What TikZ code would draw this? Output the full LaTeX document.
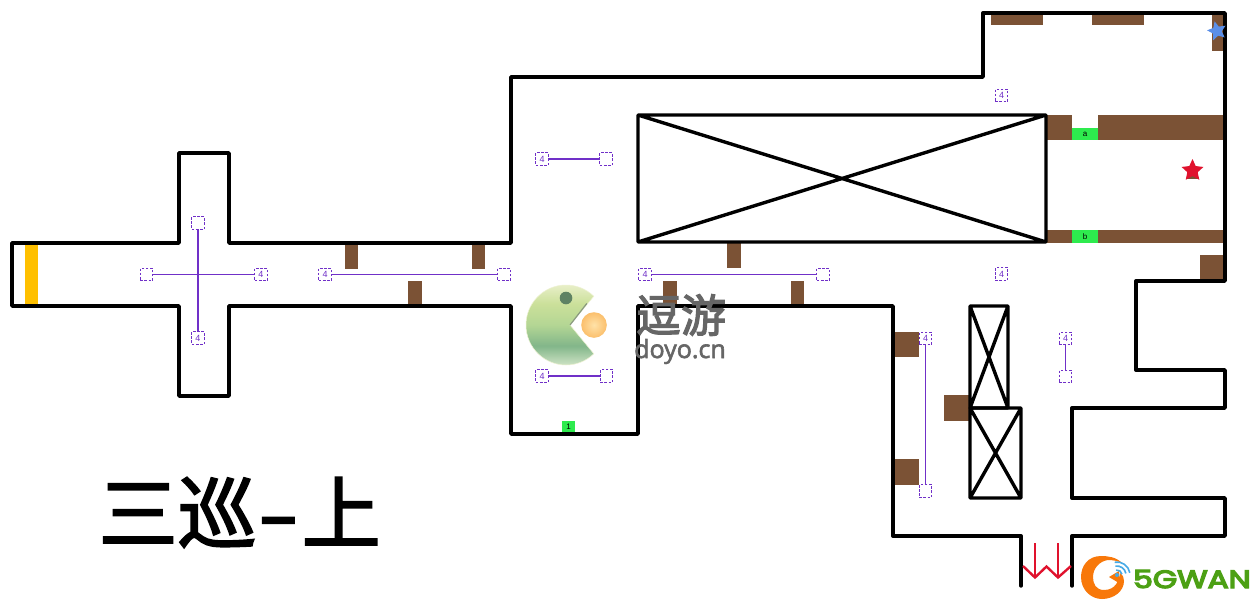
\documentclass[tikz,border=0pt]{standalone}
\usepackage{fontspec}
\setmainfont{Liberation Sans}
\newfontfamily\cjkfont[FakeBold=2.6]{Noto Sans CJK SC}
\newfontfamily\titlefont[FakeBold=2.2]{Noto Sans CJK SC}
\newfontfamily\doyofont[FakeBold=2.4]{Open Sans}
\newfontfamily\gwanfont[FakeBold=5]{Poppins}
\usetikzlibrary{shapes.geometric}
\definecolor{wallbrown}{HTML}{7B5235}
\definecolor{doorgreen}{HTML}{2EEB4E}
\definecolor{mobpurple}{HTML}{7030C8}
\definecolor{arrowred}{HTML}{E0122D}
\definecolor{marklabel}{HTML}{666666}
\definecolor{strip}{HTML}{FFC000}
\definecolor{bluestarc}{HTML}{5B8FE8}
\definecolor{gorange}{HTML}{F8780A}
\definecolor{wifiblue}{HTML}{46AAE6}
\definecolor{gwangreen}{HTML}{4CA014}
\definecolor{pacA}{HTML}{EEF2D2}
\definecolor{pacB}{HTML}{CBE09A}
\definecolor{pacC}{HTML}{B4D694}
\definecolor{pacD}{HTML}{82B68A}
\definecolor{pacE}{HTML}{DCEBCF}
\definecolor{paceye}{HTML}{5F8263}
\definecolor{pacedge}{HTML}{8A9A80}
\definecolor{ballin}{HTML}{FFE2A8}
\definecolor{ballout}{HTML}{FBBF6C}
\pgfdeclareverticalshading{pacshade}{100bp}{color(0bp)=(pacE); color(25bp)=(pacE); color(38bp)=(pacD); color(50bp)=(pacC); color(62bp)=(pacB); color(75bp)=(pacA); color(100bp)=(pacA)}
\tikzset{
  x=1pt,y=-1pt,
  wall/.style={line width=3.4pt,line join=round,line cap=round,black},
  crate/.style={line width=3.4pt,line join=round,black},
  obstacle/.style={fill=wallbrown,draw=none},
  door/.style={fill=doorgreen,draw=none},
  spot/.style={draw=mobpurple,dashed,dash pattern=on 2.6pt off 1.6pt,line width=1pt,minimum size=12.5pt,inner sep=0pt,text=mobpurple,font=\fontsize{9}{9}\selectfont,fill=white},
  link/.style={draw=mobpurple,line width=1.2pt},
  doorlabel/.style={font=\fontsize{8}{8}\selectfont,text=black,inner sep=0pt},
  starmark/.style={star,star points=5,star point ratio=2.1,minimum size=23pt,inner sep=0pt,draw=none},
}
\begin{document}
\begin{tikzpicture}
\useasboundingbox (0,0) rectangle (1251,600);
\fill[white] (0,0) rectangle (1251,600);
% orange strip
\fill[strip] (25,243) rectangle (38,306);
% brown blocks
\foreach \a/\b/\c/\d in {344.5/243/358/269, 472/243/485/269, 408/281/421.5/306,
  727/243/741/268, 663/281/677/306, 791/281/804/306,
  895/332/919/357, 895/459/919/485, 944/395/970/421,
  991/13/1043/25, 1092/13/1144/25, 1212/13/1225/51,
  1047/115/1072/140, 1098/115/1225/140, 1047/230/1225/243, 1200/255/1225/281,
  1187/170/1198/179}
  \fill[obstacle] (\a,\b) rectangle (\c,\d);
% green doors
\node[door,minimum width=26pt,minimum height=12.5pt,inner sep=0pt] (doora) at (1085,134) {};
\node[door,minimum width=26pt,minimum height=12.5pt,inner sep=0pt] (doorb) at (1085,236.5) {};
\node[door,minimum width=13pt,minimum height=12.5pt,inner sep=0pt] (doorone) at (568.5,427) {};
\node[doorlabel] at (doora) {a};
\node[doorlabel] at (doorb) {b};
\node[doorlabel] at (doorone) {1};
% walls
\draw[wall] (1072,586) -- (1072,536) -- (1225,536) -- (1225,498) -- (1072,498) -- (1072,408) -- (1225,408) -- (1225,370) -- (1136,370) -- (1136,281) -- (1225,281) -- (1225,13) -- (983,13) -- (983,77) -- (511,77) -- (511,243) -- (229,243) -- (229,153) -- (179,153) -- (179,243) -- (12,243) -- (12,306) -- (179,306) -- (179,396) -- (229,396) -- (229,306) -- (511,306) -- (511,434) -- (638,434) -- (638,306) -- (893,306) -- (893,536) -- (1021,536) -- (1021,586);
% crossed crates
\draw[crate] (638,115) rectangle (1046,242) (638,115) -- (1046,242) (638,242) -- (1046,115);
\draw[crate] (970,306) rectangle (1008,408) (970,306) -- (1008,408) (970,408) -- (1008,306);
\draw[crate] (970,408) rectangle (1021,498) (970,408) -- (1021,498) (970,498) -- (1021,408);
% spawn spots
\node[spot] (cl) at (146.5,274.5) {};
\node[spot] (cr) at (261,274.5) {4};
\node[spot] (ct) at (198,223) {};
\node[spot] (cb) at (198,338) {4};
\node[spot] (h1a) at (325,274.5) {4};
\node[spot] (h1b) at (504,274.5) {};
\node[spot] (h2a) at (542,159) {4};
\node[spot] (h2b) at (606,159) {};
\node[spot] (h3a) at (645,274.5) {4};
\node[spot] (h3b) at (823,274.5) {};
\node[spot] (h4a) at (542,376) {4};
\node[spot] (h4b) at (606.5,376) {};
\node[spot] (v1a) at (925.5,338.5) {4};
\node[spot] (v1b) at (925.5,491) {};
\node[spot] (v2a) at (1065.5,338.5) {4};
\node[spot] (v2b) at (1065.5,376.5) {};
\node[spot] (s1) at (1001.5,95.5) {4};
\node[spot] (s2) at (1001.5,274) {4};
\draw[link] (cl) -- (cr);
\draw[link] (ct) -- (cb);
\draw[link] (h1a) -- (h1b);
\draw[link] (h2a) -- (h2b);
\draw[link] (h3a) -- (h3b);
\draw[link] (h4a) -- (h4b);
\draw[link] (v1a) -- (v1b);
\draw[link] (v2a) -- (v2b);
% stars
\node[starmark,fill=arrowred] (redstar) at (1192.5,170.5) {};
\node[starmark,fill=bluestarc,minimum size=20pt,shape border rotate=14] (bluestar) at (1217,31) {};
% exit arrows
\coordinate (ex1) at (1023,566);
\coordinate (tip1) at (1035,577.5);
\coordinate (ex2) at (1046.5,566.5);
\coordinate (tip2) at (1058,577.5);
\coordinate (ex3) at (1071,566);
\coordinate (tail1) at (1035,543);
\coordinate (tail2) at (1058,543);
\draw[arrowred,line width=2.4pt,line join=miter] (ex1) -- (tip1) -- (ex2) -- (tip2) -- (ex3);
\draw[arrowred,line width=2.4pt] (tail1) -- (tip1);
\draw[arrowred,line width=2.4pt] (tail2) -- (tip2);
% title
\node[anchor=base west,inner sep=0pt,font=\titlefont\fontsize{79}{79}\selectfont] (title) at (98.5,542.5) {三巡\kern 1pt\raisebox{0pt}{\scalebox{1.5}[1]{-}}\kern 3pt 上};
% doyo pacman
\begin{scope}[shift={(566,325)},x=1pt,y=1pt]
  \path[shading=pacshade,draw=pacA,line width=0.5pt] (4,0) -- (46:40) arc[start angle=46,end angle=314,radius=40] -- cycle;
  \draw[pacedge,line width=1.2pt] (4,0) -- (46:30);
  \fill[paceye] (0,27) circle[radius=6.3];
  \shade[inner color=ballin,outer color=ballout] (28,0) circle[radius=12.8];
\end{scope}
\node[anchor=center,inner sep=0pt,text=marklabel,font=\cjkfont\fontsize{45}{45}\selectfont] (doyocn) at (681,315) {逗游};
\node[anchor=base,inner sep=0pt,text=marklabel,font=\doyofont\fontsize{25}{25}\selectfont] (doyolat) at (680,358) {doyo.cn};
% 5gwan logo
\fill[gorange]
  (1122,563) .. controls (1116,557) and (1108,556) .. (1101,556)
  .. controls (1088,556) and (1081,566) .. (1081,577)
  .. controls (1081,590) and (1091,599) .. (1102,599)
  .. controls (1114,599) and (1124,591) .. (1124,581)
  .. controls (1124,578) and (1123,575) .. (1120,573)
  .. controls (1119,580) and (1116,590) .. (1104,590)
  .. controls (1096,590) and (1093,584) .. (1093,577)
  .. controls (1093,568) and (1100,561) .. (1108,560)
  .. controls (1113,560) and (1118,561) .. (1122,563) -- cycle;
\fill[gorange] (1109,577) -- (1119,571) -- (1119,583) -- cycle;
\begin{scope}[shift={(1117,575)},x=1pt,y=1pt,line width=1.6pt]
  \fill[wifiblue] (0,0) circle[radius=2];
  \foreach \r in {5,9,13}
    \draw[wifiblue] (10:\r) arc[start angle=10,end angle=100,radius=\r];
\end{scope}
\node[anchor=base west,inner sep=0pt,text=gwangreen,font=\gwanfont\fontsize{25}{25}\selectfont] (gwan) at (1133,588) {\scalebox{1.25}[1]{5GWAN}};
\end{tikzpicture}
\end{document}
